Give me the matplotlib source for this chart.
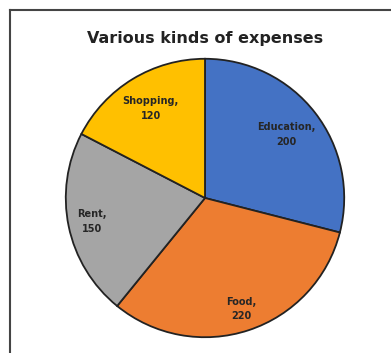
import matplotlib
matplotlib.use("Agg")
import matplotlib.pyplot as plt
import numpy as np
from matplotlib.lines import Line2D

categories = ["Education", "Food", "Rent", "Shopping"]
values = [200, 220, 150, 120]
colors = ["#4472C4", "#ED7D31", "#A5A5A5", "#FFC000"]
label_dist = [0.74, 0.84, 0.83, 0.75]

W, H = 391, 353
fig = plt.figure(figsize=(W / 100, H / 100), dpi=100)
fig.patch.set_facecolor("white")

cx, cy, R = 205, 198, 142
ax = fig.add_axes([(cx - R) / W, (H - cy - R) / H, 2 * R / W, 2 * R / H])
wedges, _ = ax.pie(values, colors=colors, startangle=90, counterclock=False,
                   wedgeprops=dict(edgecolor="#222222", linewidth=1.3), radius=1.0)
ax.set_xlim(-1.02, 1.02)
ax.set_ylim(-1.02, 1.02)
ax.set_aspect("equal")
ax.axis("off")

for w, cat, val, d in zip(wedges, categories, values, label_dist):
    ang = np.deg2rad((w.theta1 + w.theta2) / 2)
    ax.text(d * np.cos(ang), d * np.sin(ang), f"{cat},\n{val}", ha="center", va="center",
            fontsize=7, fontweight="bold", color="#262626", linespacing=1.6,
            family="DejaVu Sans")

fig.text(205 / W, 1 - 38 / H, "Various kinds of expenses", ha="center", va="center",
         fontsize=11.5, fontweight="bold", color="#222222", family="DejaVu Sans")

# frame
fig.add_artist(Line2D([10 / W, 1.0], [1 - 10 / H, 1 - 10 / H], color="#444444", linewidth=1.5,
                      transform=fig.transFigure))
fig.add_artist(Line2D([10 / W, 10 / W], [0.0, 1 - 10 / H], color="#444444", linewidth=1.5,
                      transform=fig.transFigure))

fig.savefig("out.png", dpi=100)
